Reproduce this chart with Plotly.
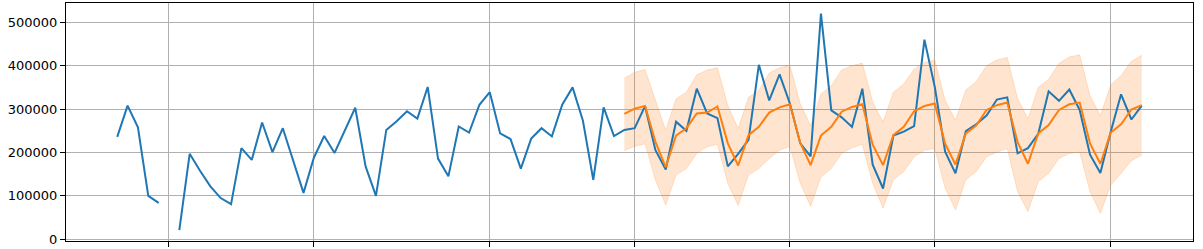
import plotly.graph_objects as go

# Observed series (monthly index positions 0..99), None = missing
observed = [
    236000, 308000, 258000, 100000, 84000, None, 21000, 197000, 158000, 122000,
    95000, 81000, 210000, 183000, 269000, 201000, 256000, 182000, 107000, 188000,
    238000, 199000, 251000, 303000, 168000, 100000, 252000, 272000, 295000, 278000,
    351000, 186000, 145000, 260000, 246000, 310000, 339000, 244000, 231000, 163000,
    232000, 256000, 237000, 310000, 350000, 273000, 137000, 304000, 238000, 252000,
    256000, 307000, 206000, 161000, 271000, 250000, 347000, 290000, 279000, 168000,
    197000, 229000, 402000, 320000, 380000, 313000, 221000, 191000, 520000, 297000,
    281000, 259000, 347000, 172000, 117000, 239000, 248000, 261000, 460000, 351000,
    202000, 152000, 249000, 265000, 285000, 322000, 327000, 198000, 210000, 243000,
    341000, 319000, 345000, 298000, 195000, 153000, 248000, 334000, 276000, 308000,
]

forecast_start = 49
forecast = [
    289000, 301000, 307000, 225000, 166000, 239000, 256000, 290000, 292000, 306000,
    221000, 170000, 240000, 259000, 292000, 304000, 311000, 222000, 171000, 239000,
    259000, 294000, 305000, 311000, 218000, 171000, 240000, 259000, 295000, 307000,
    313000, 220000, 172000, 244000, 262000, 298000, 309000, 315000, 224000, 174000,
    244000, 263000, 298000, 311000, 315000, 221000, 174000, 246000, 265000, 299000,
    309000,
]
upper = [
    371000, 385000, 391000, 321000, 251000, 324000, 339000, 379000, 390000, 395000,
    308000, 255000, 327000, 343000, 383000, 395000, 401000, 312000, 262000, 335000,
    354000, 390000, 400000, 406000, 316000, 270000, 339000, 358000, 392000, 407000,
    413000, 320000, 274000, 344000, 363000, 400000, 413000, 419000, 324000, 278000,
    350000, 369000, 405000, 420000, 425000, 331000, 285000, 356000, 377000, 410000,
    424000,
]
lower = [
    205000, 214000, 220000, 137000, 79000, 148000, 163000, 198000, 213000, 219000,
    129000, 78000, 148000, 163000, 186000, 205000, 214000, 129000, 76000, 144000,
    163000, 198000, 211000, 219000, 129000, 72000, 137000, 156000, 190000, 205000,
    209000, 118000, 68000, 137000, 156000, 190000, 201000, 209000, 110000, 64000,
    133000, 152000, 186000, 198000, 201000, 110000, 60000, 125000, 152000, 181000,
    194000,
]

x_grid = [5, 19, 36, 50, 65, 79, 96]
y_ticks = [0, 100000, 200000, 300000, 400000, 500000]

x_obs = list(range(len(observed)))
x_fc = [forecast_start + i for i in range(len(forecast))]

band_rgba = "rgba(255,127,14,0.2)"

fig = go.Figure()
fig.add_trace(go.Scatter(x=x_fc, y=upper, mode="lines",
                         line=dict(color=band_rgba, width=1), showlegend=False))
fig.add_trace(go.Scatter(x=x_fc, y=lower, mode="lines", fill="tonexty",
                         fillcolor=band_rgba,
                         line=dict(color=band_rgba, width=1), showlegend=False))
fig.add_trace(go.Scatter(x=x_obs, y=observed, mode="lines", connectgaps=False,
                         line=dict(color="#1f77b4", width=2), showlegend=False))
fig.add_trace(go.Scatter(x=x_fc, y=forecast, mode="lines",
                         line=dict(color="#ff7f0e", width=2), showlegend=False))

axis_common = dict(showline=True, mirror=True, linecolor="black", linewidth=1,
                   ticks="outside", ticklen=5, tickwidth=1, tickcolor="black",
                   showgrid=True, gridcolor="#b0b0b0", gridwidth=1, zeroline=False)

fig.update_xaxes(range=[-4.95, 103.95], tickvals=x_grid, showticklabels=False,
                 **axis_common)
fig.update_yaxes(range=[-3900, 544400], tickvals=y_ticks,
                 ticktext=[str(v) for v in y_ticks],
                 tickfont=dict(family="DejaVu Sans", size=13, color="black"),
                 **axis_common)

fig.update_layout(width=1203, height=249,
                  margin=dict(l=66, r=10, t=2, b=7),
                  paper_bgcolor="white", plot_bgcolor="white",
                  font=dict(family="DejaVu Sans", size=13, color="black"))

fig.write_html("out.html")
